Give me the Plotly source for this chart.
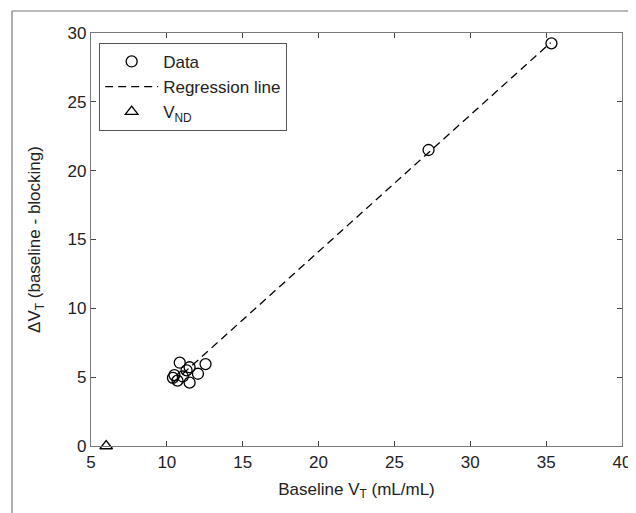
import plotly.graph_objects as go

# Data values
data_x = [10.85, 11.5, 12.55, 12.05, 11.3, 10.5, 10.4, 10.7, 11.05, 11.5]
data_y = [6.05, 5.72, 5.95, 5.25, 5.5, 5.15, 4.95, 4.75, 5.05, 4.6]
data_x += [27.25, 35.35]
data_y += [21.5, 29.25]

reg_x = [10.4, 35.3]
reg_y = [4.6, 29.3]

vnd_x = [6.0]
vnd_y = [0.0]

x_ticks = [5, 10, 15, 20, 25, 30, 35, 40]
y_ticks = [0, 5, 10, 15, 20, 25, 30]

FONT = "Liberation Sans, Arial, sans-serif"
fig = go.Figure()
fig.add_trace(go.Scatter(
    x=data_x, y=data_y, mode="markers", name="Data",
    marker=dict(symbol="circle-open", size=11, color="black", line=dict(width=1.3, color="black")),
))
fig.add_trace(go.Scatter(
    x=reg_x, y=reg_y, mode="lines", name="Regression line",
    line=dict(color="black", width=1.3, dash="8px,5px"),
))
fig.add_trace(go.Scatter(
    x=vnd_x, y=vnd_y, mode="markers", name="V<sub>ND</sub>",
    marker=dict(symbol="triangle-up-open", size=11, color="black", line=dict(width=1.3, color="black")),
    cliponaxis=False,
))

axis_common = dict(
    showgrid=False, zeroline=False, showline=True, linecolor="#7a7a7a", linewidth=1.2,
    mirror="ticks", ticks="inside", ticklen=5, tickcolor="#444", tickwidth=1,
    tickfont=dict(size=17, color="#222", family=FONT),
)
fig.update_layout(
    width=628, height=505,
    margin=dict(l=83, r=14, t=25, b=67, autoexpand=False),
    paper_bgcolor="white", plot_bgcolor="white",
    font=dict(family=FONT, color="#222", size=17),
    xaxis=dict(range=[5, 40], tickvals=x_ticks, automargin=False,
               title=dict(text="Baseline V<sub>T</sub> (mL/mL)", font=dict(size=17), standoff=12),
               **axis_common),
    yaxis=dict(range=[0, 30], tickvals=y_ticks, automargin=False,
               title=dict(text="ΔV<sub>T</sub> (baseline - blocking)", font=dict(size=17), standoff=22),
               **axis_common),
    legend=dict(x=0.015, y=0.9765, xanchor="left", yanchor="top",
                bgcolor="white", bordercolor="#555", borderwidth=1.2, itemwidth=53,
                font=dict(size=17, color="#222", family=FONT)),
    showlegend=True,
    shapes=[
        dict(type="line", xref="paper", yref="paper", x0=-0.1488, x1=1.1, y0=1.0533, y1=1.0533,
             line=dict(color="#777", width=1.2)),
        dict(type="line", xref="paper", yref="paper", x0=-0.1488, x1=-0.1488, y0=-0.3, y1=1.0533,
             line=dict(color="#777", width=1.2)),
    ],
)
fig.write_html("out.html")
